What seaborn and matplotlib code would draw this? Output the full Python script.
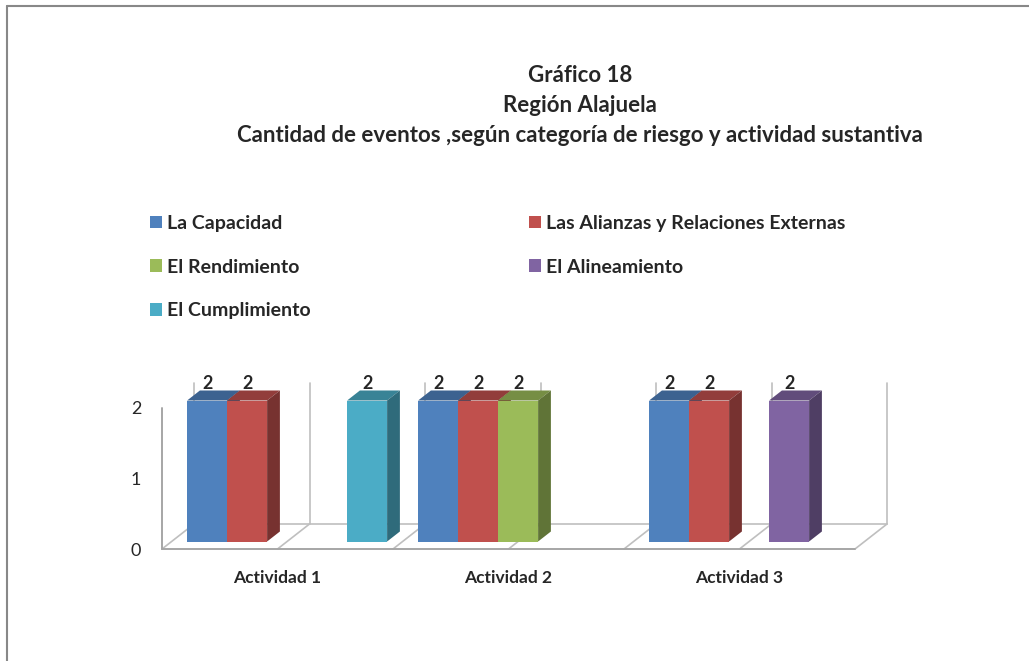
import matplotlib
matplotlib.use('Agg')
import matplotlib.pyplot as plt
import matplotlib.colors as mcolors
from matplotlib.patches import Polygon, Patch
from matplotlib.lines import Line2D
import seaborn as sns
import pandas as pd
import numpy as np

# datos
actividades = ['Actividad 1', 'Actividad 2', 'Actividad 3']
categorias = ['La Capacidad', 'Las Alianzas y Relaciones Externas',
              'El Rendimiento', 'El Alineamiento', 'El Cumplimiento']
capacidad = [2, 2, 2]
alianzas = [2, 2, 2]
rendimiento = [0, 2, 0]
alineamiento = [0, 0, 2]
cumplimiento = [2, 0, 0]
colores = ['#4F81BD', '#C0504D', '#9BBB59', '#8064A2', '#4BACC6']
y_ticks = [0, 1, 2]
titulo = ['Gráfico 18', 'Región Alajuela',
          'Cantidad de eventos ,según categoría de riesgo y actividad sustantiva']

series = [capacidad, alianzas, rendimiento, alineamiento, cumplimiento]
df = pd.DataFrame({
    'actividad': actividades * len(categorias),
    'categoria': np.repeat(categorias, len(actividades)),
    'eventos': np.concatenate(series),
})

sns.set_style('white')
plt.rcParams['font.family'] = ['Lato', 'DejaVu Sans']

W, H = 1029, 661
fig = plt.figure(figsize=(W / 100, H / 100), dpi=100)

# escala en px por unidad y vector de profundidad (efecto 3D)
sx, sy = 231, 70.5
x0_px, y0_px = 162, 549
prof = (32, 25)
xmin, xmax = -0.5, len(actividades) - 0.5 + 45 / sx
ymax = 2.6
ax = fig.add_axes([x0_px / W, (H - y0_px) / H, (xmax - xmin) * sx / W, ymax * sy / H])

sns.barplot(data=df, x='actividad', y='eventos', hue='categoria',
            hue_order=categorias, order=actividades, palette=colores,
            saturation=1, width=len(categorias) * 40 / sx, linewidth=0,
            legend=False, ax=ax)
ax.set_xlim(xmin, xmax)
ax.set_ylim(0, ymax)

dxu, dyu = prof[0] / sx, prof[1] / sy


def oscurecer(c, f):
    r, g, b = mcolors.to_rgb(c)
    return (r * f, g * f, b * f)


# caras superior y lateral de cada barra
for cont, color in zip(ax.containers, colores):
    for p in cont:
        p.set_x(p.get_x() + 0.3 * dxu)
        p.set_y(0.3 * dyu)
        h = p.get_height()
        if h == 0:
            p.set_visible(False)
            continue
        xa, xb = p.get_x(), p.get_x() + p.get_width()
        yb, yt = p.get_y(), p.get_y() + h
        ddx, ddy = 0.4 * dxu, 0.4 * dyu
        z = 3 + xa
        p.set_zorder(z + 0.02)
        ax.add_patch(Polygon([(xa, yt), (xb, yt), (xb + ddx, yt + ddy), (xa + ddx, yt + ddy)],
                             closed=True, fc=oscurecer(color, 0.76), lw=0, zorder=z, clip_on=False))
        ax.add_patch(Polygon([(xb, yb), (xb + ddx, yb + ddy), (xb + ddx, yt + ddy), (xb, yt)],
                             closed=True, fc=oscurecer(color, 0.62), lw=0, zorder=z + 0.01, clip_on=False))
    etiquetas = [str(int(v)) if v > 0 else '' for v in cont.datavalues]
    ax.bar_label(cont, labels=etiquetas, padding=6, fontsize=13,
                 fontweight='bold', zorder=10)

# piso y pared del fondo
gris = '#BFBFBF'
bordes = np.arange(2 * len(actividades) + 1) * 0.5 - 0.5
for xb in bordes:
    ax.plot([xb, xb + dxu], [0, dyu], color=gris, lw=1.2, zorder=1, clip_on=False)
    ax.plot([xb + dxu, xb + dxu], [dyu, max(y_ticks) + dyu], color=gris, lw=1.2,
            zorder=1, clip_on=False)
ax.plot([bordes[0], bordes[-1]], [0, 0], color='#A6A6A6', lw=1.4, zorder=1, clip_on=False)
ax.plot([bordes[0] + dxu, bordes[-1] + dxu], [dyu, dyu], color=gris, lw=1.2, zorder=1, clip_on=False)
ax.plot([bordes[0], bordes[0]], [0, max(y_ticks)], color='#A6A6A6', lw=1.4, zorder=1, clip_on=False)

sns.despine(ax=ax, left=True, bottom=True)
ax.set_xlabel('')
ax.set_ylabel('')
ax.set_yticks(y_ticks)
ax.set_yticklabels([str(t) for t in y_ticks], fontsize=13)
ax.set_xticks(range(len(actividades)))
ax.set_xticklabels(actividades, fontsize=12.5, fontweight='bold')
ax.tick_params(axis='y', length=0, pad=15)
ax.tick_params(axis='x', length=0, pad=15)

# titulo
for txt, ypx in zip(titulo, [76, 105, 136]):
    fig.text(580 / W, 1 - ypx / H, txt, ha='center', va='center',
             fontsize=16, fontweight='bold')

# leyenda (orden por filas)
manejadores = [Patch(facecolor=c, edgecolor='none') for c in colores]
orden = [0, 2, 4, 1, 3]
fig.legend([manejadores[i] for i in orden], [categorias[i] for i in orden],
           ncol=2, loc='upper left', bbox_to_anchor=(150 / W, 1 - 215 / H),
           frameon=False, borderpad=0, borderaxespad=0, handlelength=0.62,
           handleheight=0.62, handletextpad=0.27, columnspacing=11.2,
           labelspacing=1.37, prop={'weight': 'bold', 'size': 14})

# marco del grafico
fig.add_artist(Line2D([7 / W, 7 / W], [0, 1 - 6 / H], color='#888888', lw=1.5))
fig.add_artist(Line2D([7 / W, 1], [1 - 6 / H, 1 - 6 / H], color='#888888', lw=1.5))

fig.savefig('out.png', dpi=100)
